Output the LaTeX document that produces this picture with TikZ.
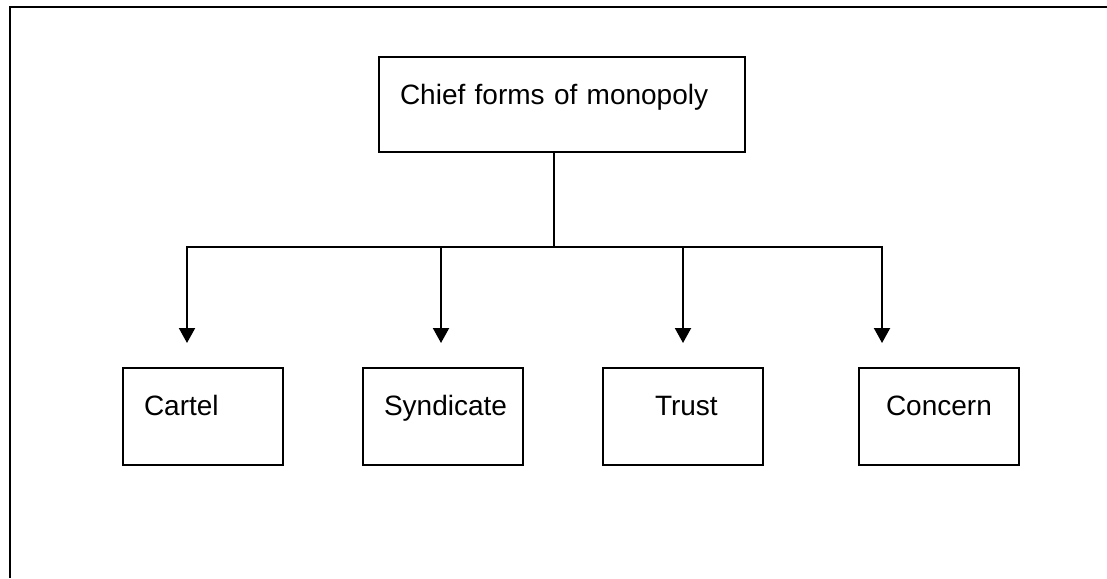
\documentclass[tikz,border=0pt]{standalone}
\usepackage{fontspec}
\setmainfont{Liberation Sans}
\usetikzlibrary{arrows.meta}
\begin{document}
\begin{tikzpicture}[x=1pt,y=-1pt,
  boxnode/.style={draw, line width=2pt, inner sep=0pt, anchor=north west, align=left,
    font=\fontsize{28}{30}\selectfont, text height=47pt},
  link/.style={line width=2pt},
  arr/.style={line width=2pt, -{Triangle[width=16pt,length=15pt]}, shorten >=24pt},
  frame/.style={line width=2.2pt}]
\useasboundingbox (0,0) rectangle (1107,578);
\coordinate (f1) at (10,7);
\coordinate (f2) at (1107,7);
\coordinate (f3) at (10,578);
\draw[frame] (f3) -- (f1) -- (f2);
\node[boxnode, text width=366pt, text depth=48pt] (top) at (378,56) {\hspace*{21pt}Chief forms of monopoly};
\node[boxnode, text width=160pt, text depth=50pt] (cartel) at (122,367) {\hspace*{21pt}Cartel};
\node[boxnode, text width=160pt, text depth=50pt] (synd) at (362,367) {\hspace*{21pt}Syndicate};
\node[boxnode, text width=160pt, text depth=50pt] (trust) at (602,367) {\hspace*{52pt}Trust};
\node[boxnode, text width=160pt, text depth=50pt] (concern) at (858,367) {\hspace*{27pt}Concern};
\coordinate (jn) at (554,247);
\draw[link] (jn |- top.south) -- (jn);
\draw[arr] (jn) -| ([xshift=-16pt]cartel.north);
\draw[arr] (jn) -| ([xshift=-2pt]synd.north);
\draw[arr] (jn) -| (trust.north);
\draw[arr] (jn) -| ([xshift=-57pt]concern.north);
\end{tikzpicture}
\end{document}
